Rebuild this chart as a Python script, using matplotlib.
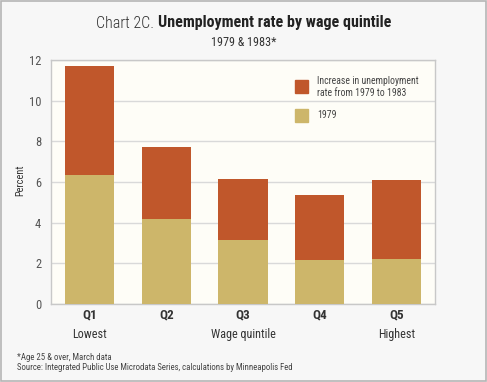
import matplotlib
matplotlib.use("Agg")
import matplotlib.pyplot as plt
from matplotlib.patches import Rectangle
from matplotlib import font_manager

names = {f.name for f in font_manager.fontManager.ttflist}
cands = ["Roboto Condensed", "Open Sans Condensed", "Noto Sans Condensed", "Asap Condensed",
         "Barlow Semi Condensed", "Archivo Narrow"]
fam = [c for c in cands if c in names][:1] + ["DejaVu Sans"]
plt.rcParams['font.family'] = fam

categories = ["Q1", "Q2", "Q3", "Q4", "Q5"]
sub_labels = ["Lowest", "", "Wage quintile", "", "Highest"]
rate_1979 = [6.35, 4.17, 3.13, 2.15, 2.2]
rate_1983 = [11.7, 7.74, 6.15, 5.35, 6.11]
increase = [b - a for a, b in zip(rate_1979, rate_1983)]
yticks = [0, 2, 4, 6, 8, 10, 12]

c_inc = "#c0572b"
c_79 = "#cdb66a"
txt = "#333333"

fig = plt.figure(figsize=(4.87, 3.82), dpi=100)
fig.patch.set_facecolor("#f7f7f7")
fig.add_artist(Rectangle((0.002, 0.003), 0.995, 0.994, transform=fig.transFigure,
                         fill=False, edgecolor="#b5b5b5", linewidth=1.2))

W, H = 487, 382
l, r, t, b = 51, 435, 60, 304
ax = fig.add_axes([l / W, 1 - b / H, (r - l) / W, (b - t) / H])
ax.set_facecolor("#fefdf7")

x = list(range(len(categories)))
ax.bar(x, rate_1979, width=0.64, color=c_79, zorder=3)
ax.bar(x, increase, bottom=rate_1979, width=0.64, color=c_inc, zorder=3)

ax.set_xlim(-0.5, 4.5)
ax.set_ylim(0, 12)
ax.set_yticks(yticks)
ax.set_yticklabels([str(v) for v in yticks], fontsize=9, color="#555555")
ax.yaxis.grid(True, color="#d9d9d9", linewidth=1, zorder=0)
ax.tick_params(axis="y", length=0, pad=7)
ax.set_xticks(x)
ax.set_xticklabels(categories, fontsize=9.5, fontweight="bold", color=txt)
ax.tick_params(axis="x", length=0, pad=3)
for i, s in enumerate(sub_labels):
    if s:
        ax.text(i, -1.2, s, ha="center", va="top", fontsize=8.7, color=txt)
for sp in ax.spines.values():
    sp.set_color("#c8c8c8")
    sp.set_linewidth(1)
fig.text(20 / W, 1 - 180 / H, "Percent", rotation=90, ha="center", va="center",
         fontsize=7.5, color=txt)

# legend
def fx(px):
    return (px - l) / (r - l)
def fy(py):
    return (b - py) / (b - t)
ax.add_patch(Rectangle((fx(295), fy(93)), fx(308) - fx(295), fy(80) - fy(93),
                       transform=ax.transAxes, color=c_inc, zorder=4))
ax.add_patch(Rectangle((fx(295), fy(122)), fx(308) - fx(295), fy(109) - fy(122),
                       transform=ax.transAxes, color=c_79, zorder=4))
ax.text(fx(317), fy(87), "Increase in unemployment\nrate from 1979 to 1983", transform=ax.transAxes,
        fontsize=7, color="#444444", va="center", ha="left", linespacing=1.15)
ax.text(fx(317), fy(115), "1979", transform=ax.transAxes,
        fontsize=7, color="#444444", va="center", ha="left")

# title in two parts, centred together
ty = 1 - 23 / H
t1 = fig.text(0, ty, "Chart 2C. ", ha="left", va="center", fontsize=11.5, fontweight=300, color=txt)
t2 = fig.text(0, ty, "Unemployment rate by wage quintile", ha="left", va="center",
              fontsize=11.5, fontweight="bold", color="#222222")
rend = fig.canvas.get_renderer()
w1 = t1.get_window_extent(rend).width / W
w2 = t2.get_window_extent(rend).width / W
x0 = 0.5 - (w1 + w2) / 2
t1.set_x(x0)
t2.set_x(x0 + w1)
fig.text(0.5, 1 - 43 / H, "1979 & 1983*", ha="center", va="center", fontsize=8.7, color=txt)

fig.text(17 / W, 1 - 357 / H, "*Age 25 & over, March data", ha="left", va="center",
         fontsize=6.3, color="#444444")
fig.text(17 / W, 1 - 368 / H, "Source: Integrated Public Use Microdata Series, calculations by Minneapolis Fed",
         ha="left", va="center", fontsize=6.3, color="#444444")

fig.savefig("out.png", dpi=100, facecolor=fig.get_facecolor())
